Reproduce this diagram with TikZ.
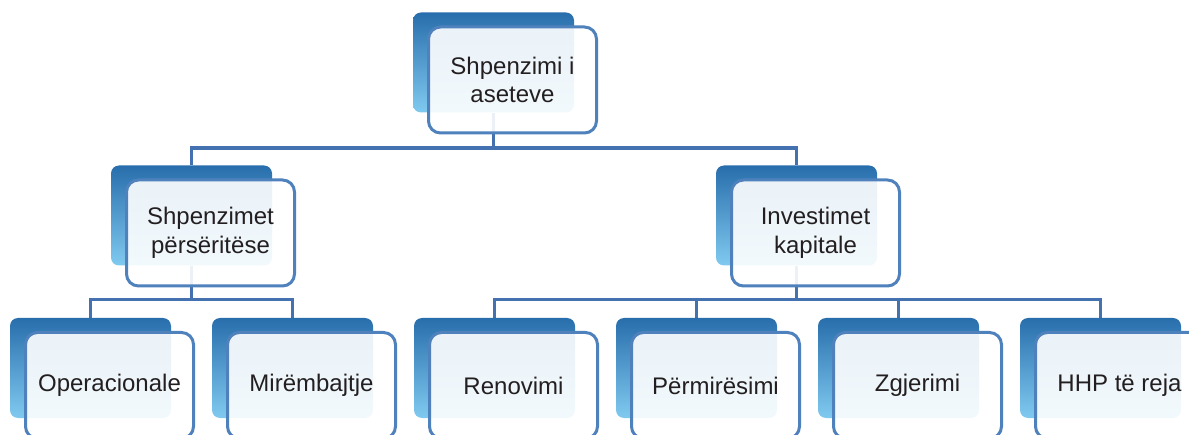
\documentclass[tikz,border=0pt]{standalone}
\usepackage{fontspec}
\setmainfont{Liberation Sans}
\usetikzlibrary{positioning}
\pgfdeclarelayer{background}
\pgfsetlayers{background,main}
\definecolor{linecol}{RGB}{68,114,176}
\definecolor{edgecol}{RGB}{79,129,189}
\definecolor{darkblue}{RGB}{40,110,172}
\definecolor{lightblue}{RGB}{128,202,240}
\definecolor{textcol}{RGB}{35,31,32}

\begin{document}
\begin{tikzpicture}[
    x=1pt, y=1pt,
    node distance=40.6pt,
    backbox/.style={rectangle, rounded corners=8pt, minimum width=161pt, minimum height=100pt,
        inner sep=0pt, top color=darkblue, bottom color=lightblue, draw=none},
    frontbox/.style={rectangle, rounded corners=12pt, minimum width=168pt, minimum height=106pt,
        draw=edgecol, line width=3pt, fill=white, fill opacity=0.9, text opacity=1,
        text=textcol, align=center, font=\fontsize{24}{28.5}\selectfont},
    conn/.style={draw=linecol, line width=3.5pt}
]
\useasboundingbox (0,0) rectangle (1189,434);
\clip (0,0) rectangle (1189,434);

% Back boxes
\node[backbox] (top-b) at (493.5,371.5) {};
\node[backbox] (spend-b) at (191.5,218.5) {};
\node[backbox] (inv-b) at (796.5,218.5) {};
\node[backbox] (op-b) at (90.5,66) {};
\node[backbox, right=of op-b] (mir-b) {};
\node[backbox, right=of mir-b] (ren-b) {};
\node[backbox, right=of ren-b] (perm-b) {};
\node[backbox, right=of perm-b] (zgj-b) {};
\node[backbox, right=of zgj-b] (hhp-b) {};

% Front boxes
\node[frontbox] (top) at ([shift={(19,-17.5)}]top-b.center) {Shpenzimi i\\aseteve};
\node[frontbox] (spend) at ([shift={(19,-17.5)}]spend-b.center) {Shpenzimet\\përsëritëse};
\node[frontbox] (inv) at ([shift={(19,-17.5)}]inv-b.center) {Investimet\\kapitale};
\node[frontbox] (op) at ([shift={(19,-17.5)}]op-b.center) {Operacionale};
\node[frontbox] (mir) at ([shift={(19,-17.5)}]mir-b.center) {Mirëmbajtje};
\node[frontbox] (ren) at ([shift={(19,-17.5)}]ren-b.center) {Renovimi};
\node[frontbox] (perm) at ([shift={(19,-17.5)}]perm-b.center) {Përmirësimi};
\node[frontbox] (zgj) at ([shift={(19,-17.5)}]zgj-b.center) {Zgjerimi};
\node[frontbox] (hhp) at ([shift={(19,-17.5)}]hhp-b.center) {HHP të reja};

% Connectors
\coordinate (bus1) at (0,286);
\coordinate (bus2) at (0,134.5);
\begin{pgfonlayer}{background}
\draw[conn] (top-b) -- (top-b |- bus1) -| (spend-b.north);
\draw[conn] (top-b |- bus1) -| (inv-b.north);
\draw[conn] (spend-b) -- (spend-b |- bus2) -| (op-b.north);
\draw[conn] (spend-b |- bus2) -| (mir-b.north);
\draw[conn] (inv-b) -- (inv-b |- bus2) -| (ren-b.north);
\draw[conn] (inv-b |- bus2) -| (perm-b.north);
\draw[conn] (inv-b |- bus2) -| (zgj-b.north);
\draw[conn] (inv-b |- bus2) -| (hhp-b.north);
\end{pgfonlayer}

\end{tikzpicture}
\end{document}
